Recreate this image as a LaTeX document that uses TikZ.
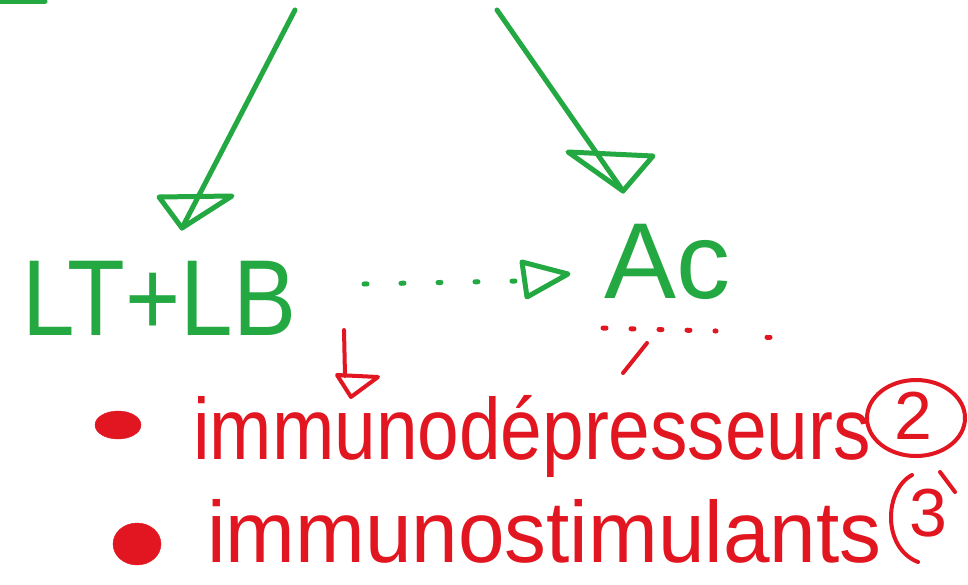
\documentclass[tikz,border=0pt]{standalone}
\usepackage{fontspec}
\setmainfont{Liberation Sans}
\usetikzlibrary{shapes.geometric}
\definecolor{pgreen}{RGB}{36,168,66}
\definecolor{pred}{RGB}{226,22,32}
\tikzset{
  gline/.style={draw=pgreen, line width=5pt, line cap=round, line join=round},
  rline/.style={draw=pred, line width=4pt, line cap=round, line join=round},
  gtext/.style={text=pgreen, inner sep=0pt, font=\fontsize{108}{108}\selectfont},
  rtext/.style={text=pred, inner sep=0pt, font=\fontsize{87}{87}\selectfont},
  bullet/.style={ellipse, fill=pred, draw=pred, inner sep=0pt},
  numtext/.style={text=pred, inner sep=0pt, font=\fontsize{68}{68}\selectfont},
  numring/.style={ellipse, draw=pred, line width=4pt, inner sep=0pt}
}
\begin{document}
\begin{tikzpicture}[x=1pt, y=-1pt]
\useasboundingbox (0,0) rectangle (968,584);
\fill[white] (0,0) rectangle (968,584);
% stub at top-left
\coordinate (s1) at (0,1);
\coordinate (s2) at (45,1);
\draw[gline] (s1) -- (s2);
% main texts
\node[gtext, anchor=base west, xscale=0.875, transform shape] (ltlb) at (22,335) {LT+LB};
\node[gtext, anchor=base west, transform shape] (ac) at (604,298) {Ac};
% top arrows with hand-drawn open heads
\coordinate (t1) at (295,10);
\coordinate (h1) at (182,228);
\draw[gline] (t1) -- (h1);
\draw[gline] (159,197) -- (232,196) -- (h1) -- cycle;
\coordinate (t2) at (497,10);
\coordinate (h2) at (623,191);
\draw[gline] (t2) -- (h2);
\draw[gline] (568,152) -- (653,156) -- (h2) -- cycle;
% dotted arrow LT+LB -> Ac
\coordinate (d1) at (364,284);
\coordinate (d2) at (568,274);
\draw[draw=pgreen, line width=5pt, line cap=round, dash pattern=on 3pt off 34pt] (d1) -- (515,281);
\draw[gline] (522,262) -- (d2) -- (527,297) -- cycle;
% red dotted line under Ac
\coordinate (r1) at (603,328);
\coordinate (r2) at (767,337);
\draw[draw=pred, line width=5pt, line cap=round, dash pattern=on 3pt off 25pt] (r1) -- (716,331);
\draw[draw=pred, line width=5pt, line cap=round] (r2) -- ++(3,0);
\coordinate (k1) at (647,343);
\coordinate (k2) at (623,373);
\draw[rline] (k1) -- (k2);
% red arrow down
\coordinate (a1) at (344,330);
\coordinate (a2) at (351,397);
\draw[rline] (a1) -- (345,376);
\draw[rline] (337,375) -- (378,377) -- (a2) -- cycle;
% list
\node[bullet, minimum width=46pt, minimum height=28pt] (b1) at (118,425) {};
\node[rtext, anchor=base west, transform shape, xscale=0.86] (i1) at (193,459) {immunodépresseurs};
\node[numring, minimum width=98pt, minimum height=76pt] (n2) at (916,418) {};
\node[numtext] (t2n) at (913,416) {2};
\node[bullet, minimum width=48pt, minimum height=42pt] (b2) at (137,544) {};
\node[rtext, anchor=base west, transform shape, xscale=0.962] (i2) at (207,562) {immunostimulants};
\node[numtext] (t3n) at (928,513) {3};
\draw[rline] (912,475) .. controls (884,490) and (882,548) .. (918,562);
\draw[rline] (940,472) -- (955,492);
\end{tikzpicture}
\end{document}
